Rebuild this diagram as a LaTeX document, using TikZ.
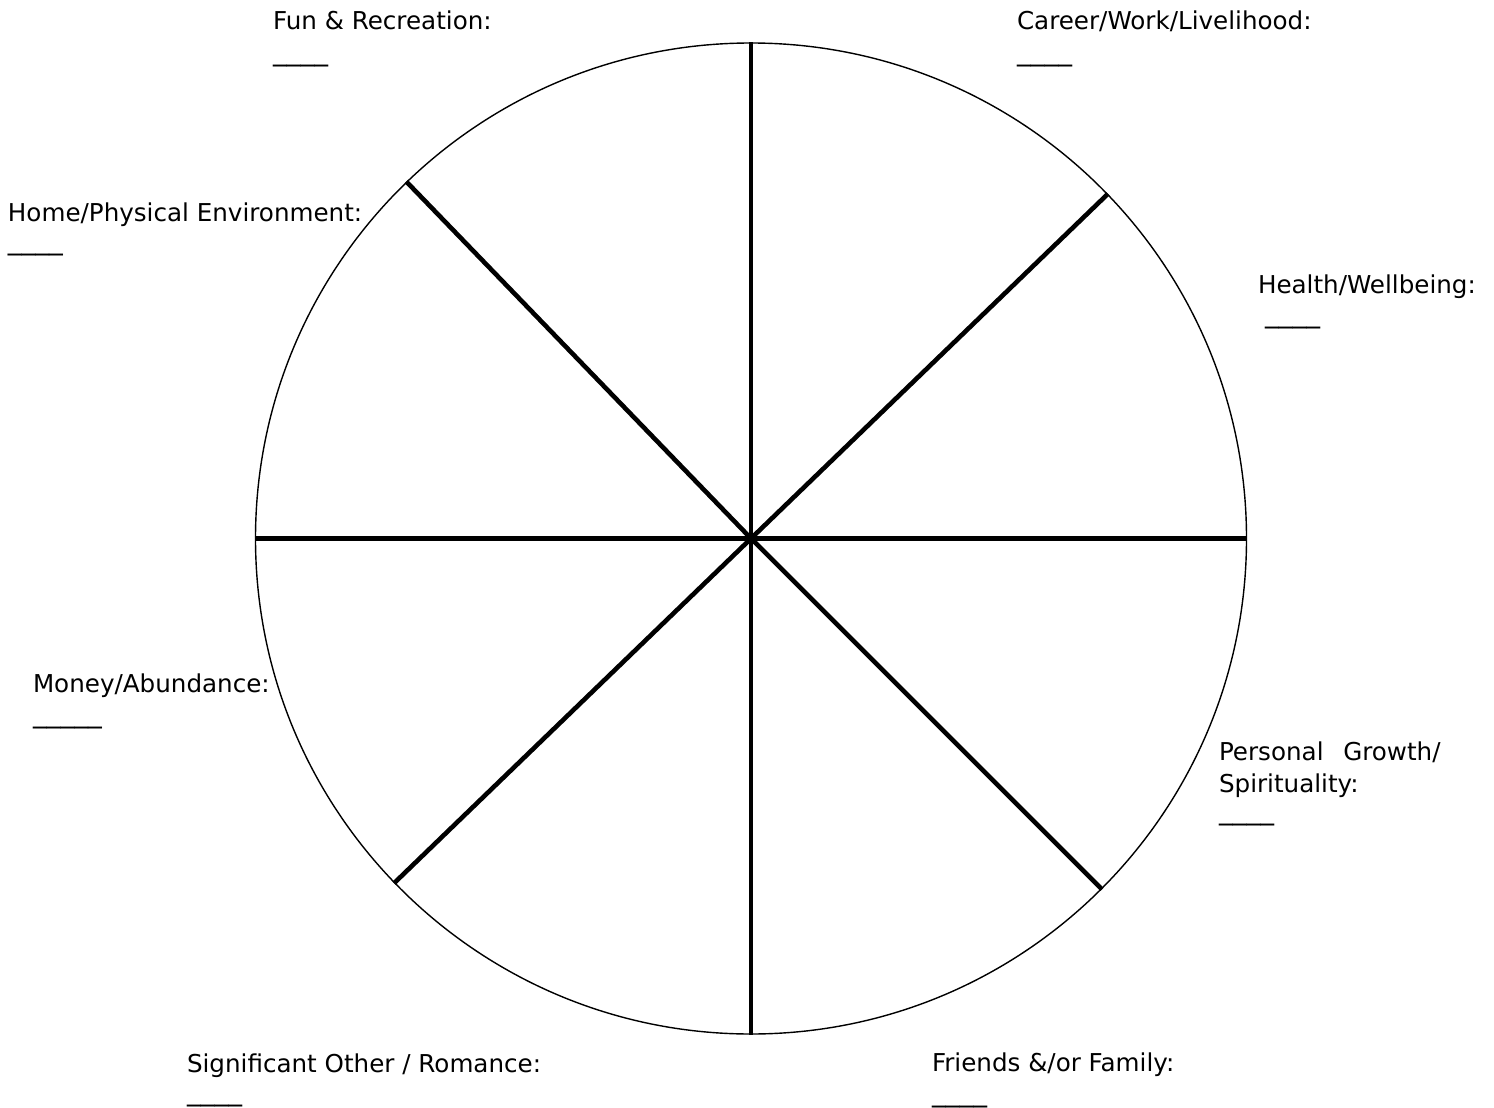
\documentclass[tikz,border=0pt]{standalone}
\usepackage{fontspec}
\setmainfont{DejaVu Sans}
\begin{document}
\begin{tikzpicture}[x=1pt,y=-1pt,
  lbl/.style={anchor=base west,inner sep=0pt,outer sep=0pt,font=\fontsize{24.6}{33}\selectfont},
  blank/.style={anchor=base west,inner sep=0pt,outer sep=0pt,font=\fontsize{27.5}{33}\selectfont},
  spoke/.style={line width=4.6pt,line cap=butt},
  rim/.style={draw,circle,line width=1.4pt,minimum size=991pt,inner sep=0pt}]
\useasboundingbox (0,0) rectangle (1494,1108);
\fill[white] (0,0) rectangle (1494,1108);
\node[rim] (wheel) at (751,538.5) {};
\coordinate (c) at (wheel.center);
\draw[spoke] (wheel.90) -- (c) -- (wheel.270);
\draw[spoke] (wheel.180) -- (c) -- (wheel.0);
\draw[spoke] (wheel.134.3) -- (c) -- (wheel.315);
\draw[spoke] (wheel.44.5) -- (c) -- (wheel.224.9);
% labels
\node[lbl] (fun) at (273,30) {Fun \& Recreation:};
\node[blank] (funu) at (273,61) {\_\_\_\_};
\node[lbl] (car) at (1017,30) {Career/Work/Livelihood:};
\node[blank] (caru) at (1017,61) {\_\_\_\_};
\node[lbl] (home) at (8,221) {Home/Physical Environment:};
\node[blank] (homeu) at (8,249) {\_\_\_\_};
\node[lbl] (health) at (1258,293) {Health/Wellbeing:};
\node[blank] (healthu) at (1265,322) {\_\_\_\_};
\node[lbl] (money) at (33,692) {Money/Abundance:};
\node[blank] (moneyu) at (33,722) {\_\_\_\_\_};
\node[lbl] (pg1) at (1219,760) {Personal\hspace{0.8em}Growth/};
\node[lbl] (pg2) at (1219,792) {Spirituality:};
\node[blank] (pgu) at (1219,819) {\_\_\_\_};
\node[lbl] (sig) at (187,1072) {Significant Other / Romance:};
\node[blank] (sigu) at (187,1100) {\_\_\_\_};
\node[lbl] (fri) at (932,1071) {Friends \&/or Family:};
\node[blank] (friu) at (932,1101) {\_\_\_\_};
\end{tikzpicture}
\end{document}
